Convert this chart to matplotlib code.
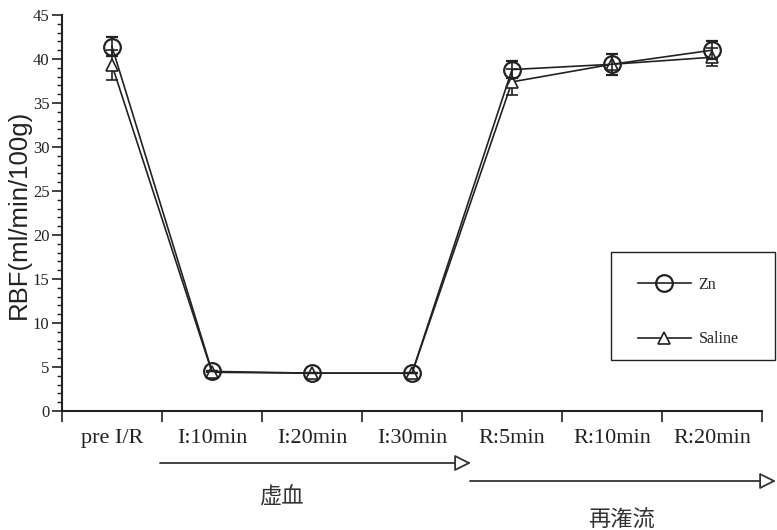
import matplotlib
matplotlib.use("Agg")
import matplotlib.pyplot as plt
import numpy as np
from matplotlib.lines import Line2D
from matplotlib.patches import FancyArrowPatch, Rectangle
from matplotlib.ticker import MultipleLocator, FixedLocator

# Time points and renal blood flow (mean ± SE)
categories = ["pre I/R", "I:10min", "I:20min", "I:30min", "R:5min", "R:10min", "R:20min"]
zn_mean = [41.4, 4.5, 4.3, 4.3, 38.8, 39.4, 41.0]
zn_err = [1.1, 0.0, 0.0, 0.0, 1.0, 1.2, 1.0]
saline_mean = [39.3, 4.4, 4.3, 4.3, 37.4, 39.4, 40.2]
saline_err = [1.7, 0.0, 0.0, 0.0, 1.5, 1.2, 1.0]
y_label = "RBF(ml/min/100g)"
phase_labels = ["虚血", "再潅流"]

serif = ["Liberation Serif", "DejaVu Serif"]
cjk = ["Noto Sans CJK JP", "DejaVu Sans"]
ink = "#222222"

fig = plt.figure(figsize=(7.77, 5.30), dpi=100)
W, H = 777, 530
ax = fig.add_axes([62 / W, 1 - 411 / H, (762 - 62) / W, (411 - 15) / H])

x = np.arange(len(categories))

sal_style = dict(color=ink, lw=1.2, marker="^", markersize=8, markerfacecolor="white",
                 markeredgecolor=ink, markeredgewidth=1.2)
zn_style = dict(color=ink, lw=1.2, marker="o", markersize=12, markerfacecolor="none",
                markeredgecolor=ink, markeredgewidth=1.6)

ax.errorbar(x, saline_mean, yerr=saline_err, capsize=4, elinewidth=1.2,
            capthick=1.2, zorder=3, **sal_style)
ax.errorbar(x, zn_mean, yerr=zn_err, capsize=4, elinewidth=1.2,
            capthick=1.2, zorder=4, **zn_style)

ax.set_xlim(-0.5, len(categories) - 0.5)
ax.set_ylim(0, 45)
for s in ("top", "right"):
    ax.spines[s].set_visible(False)
for s in ("left", "bottom"):
    ax.spines[s].set_linewidth(1.5)
    ax.spines[s].set_color(ink)

ax.yaxis.set_major_locator(MultipleLocator(5))
ax.yaxis.set_minor_locator(MultipleLocator(1))
ax.tick_params(axis="y", which="major", direction="out", length=7, width=1.2,
               color=ink, pad=2, labelsize=12, labelcolor=ink)
ax.tick_params(axis="y", which="minor", direction="out", length=3.5, width=1.0, color=ink)
for lab in ax.get_yticklabels():
    lab.set_fontfamily(serif)

# category boundaries carry the ticks; labels sit at category centres
ax.xaxis.set_major_locator(FixedLocator(np.arange(len(categories) + 1) - 0.5))
ax.xaxis.set_major_formatter(plt.NullFormatter())
ax.set_xticks(x, categories, minor=True)
ax.tick_params(axis="x", which="major", direction="out", length=8, width=1.2, color=ink)
ax.tick_params(axis="x", which="minor", length=0, pad=13, labelsize=16, labelcolor=ink)
for lab in ax.get_xticklabels(minor=True):
    lab.set_fontfamily(serif)

fig.text(19 / W, 1 - 214 / H, y_label, rotation=90, ha="center", va="center",
         fontsize=18.5, family=["Liberation Sans", "DejaVu Sans"], color=ink)

# legend: framed box with line+marker samples
fig.add_artist(Rectangle((611 / W, 1 - 360 / H), (775 - 611) / W, (360 - 252) / H,
                         transform=fig.transFigure, fill=False, edgecolor=ink, lw=1.0))
handles = [Line2D([], [], **zn_style), Line2D([], [], **sal_style)]
leg = fig.legend(handles=handles, labels=["Zn", "Saline"],
                 loc="center left", bbox_to_anchor=(638 / W, 1 - 312 / H),
                 prop={"family": serif, "size": 11.5}, handlelength=3.3,
                 handletextpad=0.5, labelspacing=2.4, borderpad=0, borderaxespad=0,
                 frameon=False)
for t in leg.get_texts():
    t.set_color(ink)

# phase arrows
arrow_kw = dict(arrowstyle="-|>,head_length=1.0,head_width=0.5", mutation_scale=10,
                color="#333333", lw=1.3, shrinkA=0, shrinkB=0, fc="white",
                transform=fig.transFigure)
fig.add_artist(FancyArrowPatch((160 / W, 1 - 463 / H), (471 / W, 1 - 463 / H), **arrow_kw))
fig.add_artist(FancyArrowPatch((470 / W, 1 - 481 / H), (776 / W, 1 - 481 / H), **arrow_kw))
fig.text(281 / W, 1 - 497 / H, phase_labels[0], ha="center", va="center",
         fontsize=16, family=cjk, color="#333333")
fig.text(621 / W, 1 - 520 / H, phase_labels[1], ha="center", va="center",
         fontsize=16, family=cjk, color="#333333")

fig.savefig("out.png", dpi=100)
